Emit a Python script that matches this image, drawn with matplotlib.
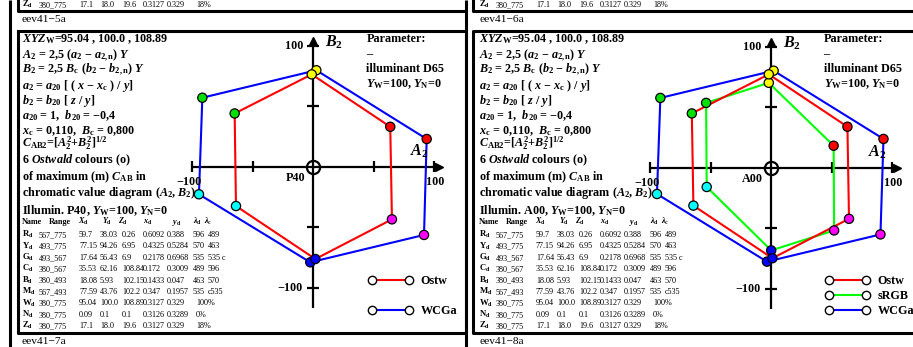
import numpy as np
import matplotlib.pyplot as plt

plt.rcParams['font.family'] = ['Liberation Serif', 'DejaVu Serif']
plt.rcParams['font.weight'] = 'bold'
plt.rcParams['mathtext.fontset'] = 'custom'
plt.rcParams['mathtext.rm'] = 'Liberation Serif:bold'
plt.rcParams['mathtext.it'] = 'Liberation Serif:italic:bold'
plt.rcParams['mathtext.bf'] = 'Liberation Serif:bold'

# hexagon order R, Y, G, C, B, M
hue_colors = ['#ff0000', '#ffff00', '#00e000', '#00ffff', '#0000ff', '#ff00ff']

# panel eev41-7a (illuminant P40)
p40_ostw_A = [63.6, -1.3, -65.0, -63.9, 1.7, 65.0]
p40_ostw_B = [33.0, 76.3, 44.0, -32.5, -76.3, -43.5]
p40_wcga_A = [93.7, 2.5, -91.7, -94.5, -2.5, 91.5]
p40_wcga_B = [22.9, 79.7, 57.0, -22.8, -79.0, -56.4]

# panel eev41-8a (illuminant A00)
a00_ostw_A = [63.0, -2.0, -65.6, -64.3, 1.0, 64.3]
a00_ostw_B = [33.7, 77.0, 44.7, -31.5, -75.0, -42.4]
a00_srgb_A = [51.6, -2.0, -53.8, -53.3, 0.0, 52.0]
a00_srgb_B = [18.0, 70.0, 53.4, -16.1, -68.5, -52.0]
a00_wcga_A = [92.8, 2.0, -91.6, -94.4, -3.5, 90.3]
a00_wcga_B = [23.6, 80.0, 57.5, -21.9, -77.8, -55.3]

# colour table
row_names = ['R', 'Y', 'G', 'C', 'B', 'M', 'W', 'N', 'Z']
row_range = ['567_775', '493_775', '493_567', '380_567', '380_493', '567_493',
             '380_775', '380_775', '380_775']
row_X = ['59.7', '77.15', '17.64', '35.53', '18.08', '77.59', '95.04', '0.09', '17.1']
row_Y = ['38.03', '94.26', '56.43', '62.16', '5.93', '43.76', '100.0', '0.1', '18.0']
row_Z = ['0.26', '6.95', '6.9', '108.84', '102.15', '102.2', '108.89', '0.1', '19.6']
row_x = ['0.6092', '0.4325', '0.2178', '0.172', '0.1433', '0.347', '0.3127', '0.3126', '0.3127']
row_y = ['0.388', '0.5284', '0.6968', '0.3009', '0.047', '0.1957', '0.329', '0.3289', '0.329']
row_ld = ['596', '570', '535', '489', '463', '535', '', '', '']
row_lc = ['489', '463', '535 c', '596', '570', 'c535', '', '', '']
row_pct = ['', '', '', '', '', '', '100%', '0%', '18%']

W, H = 913, 347
S = 1.21  # px per unit
fig = plt.figure(figsize=(W / 100, H / 100), dpi=100)
bg = fig.add_axes([0, 0, 1, 1])
bg.set_xlim(0, W)
bg.set_ylim(H, 0)
bg.axis('off')

FS = 8.7
LW_FRAME = 2.2

# frames
for x in (10, 466):
    bg.plot([x, x], [0, H], color='k', lw=LW_FRAME, solid_capstyle='butt')
bg.plot([18, 18, 466], [0, 11, 11], color='k', lw=LW_FRAME)
bg.plot([473, 473, W], [0, 11, 11], color='k', lw=LW_FRAME)
bg.plot([18, 466, 466, 18, 18], [31, 31, 333, 333, 31], color='k', lw=LW_FRAME)
bg.plot([W, 473, 473, W], [31, 31, 333, 333], color='k', lw=LW_FRAME)

col_x = [22, 39, 79, 100, 122, 143, 167, 193, 208]
TFS = 5.9


def table_row(dx, y, i):
    bg.text(dx + col_x[0], y, r'$\mathrm{%s}_\mathrm{d}$' % row_names[i], fontsize=TFS + 0.4,
            va='baseline')
    vals = [row_range[i], row_X[i], row_Y[i], row_Z[i], row_x[i], row_y[i], row_ld[i], row_lc[i]]
    for cx, v in zip(col_x[1:], vals):
        if v:
            bg.text(dx + cx, y, v, fontsize=TFS, fontweight='normal', va='baseline')
    if row_pct[i]:
        bg.text(dx + 196, y, row_pct[i], fontsize=TFS, fontweight='normal', va='baseline')


def panel_text(dx, illum, label_top, label_bot):
    bg.text(dx + 22, 22, label_top, fontsize=8.2, fontweight='normal', va='baseline')
    bg.text(dx + 22, 344, label_bot, fontsize=8.2, fontweight='normal', va='baseline')
    table_row(dx, 7, 8)
    lines = [
        r'$XYZ_\mathrm{W}$=95.04 , 100.0 , 108.89',
        r'$A_2$ = 2,5 ($a_2$ − $a_\mathrm{2,n}$) $Y$',
        r'$B_2$ = 2,5 $B_\mathrm{c}$ ($b_2$ − $b_\mathrm{2,n}$) $Y$',
        r'$a_2$ = $a_{20}$ [ ( $x$ − $x_\mathrm{c}$ ) / $y$]',
        r'$b_2$ = $b_{20}$ [ $z$ / $y$]',
        r'$a_{20}$ = 1,  $b_{20}$ = −0,4',
        r'$x_\mathrm{c}$ = 0,110,  $B_\mathrm{c}$ = 0,800',
        r'$C_\mathrm{AB2}$=[$A_2^2$+$B_2^2$]$^{1/2}$',
        r'6 $Ostwald$ colours (o)',
        r'of maximum (m) $C_\mathrm{AB}$ in',
        r'chromatic value diagram ($A_2$, $B_2$)',
        r'Illumin. %s, $Y_\mathrm{W}$=100, $Y_\mathrm{N}$=0' % illum,
    ]
    ys = [38.3, 54.3, 68.3, 85, 100, 115, 130, 143, 159, 176, 192, 210]
    for s, y in zip(lines, ys):
        bg.text(dx + 22, y + 4, s, fontsize=FS, va='baseline')
    heads = [('Name', 22), ('Range', 49), (r'$X_\mathrm{d}$', 78), (r'$Y_\mathrm{d}$', 102),
             (r'$Z_\mathrm{d}$', 118), (r'$x_\mathrm{d}$', 143), (r'$y_\mathrm{d}$', 172),
             (r'$\lambda_\mathrm{d}$', 193), (r'$\lambda_\mathrm{c}$', 204)]
    for h, hx in heads:
        bg.text(dx + hx, 224, h, fontsize=TFS, va='baseline')
    for i in range(len(row_names)):
        table_row(dx, 237 + i * 11.4, i)
    par = ['Parameter:', '–', 'illuminant D65', r'$Y_\mathrm{W}$=100, $Y_\mathrm{N}$=0']
    for s, y in zip(par, [38.3, 53, 68.3, 83.3]):
        bg.text(dx + 366.5, y + 4, s, fontsize=FS, va='baseline')


def legend(dx, entries, ys):
    for (name, col), y in zip(entries, ys):
        bg.plot([dx + 371.7, dx + 409], [y, y], color=col, lw=1.5)
        bg.plot([dx + 371.7, dx + 409], [y, y], 'o', ms=6, mfc='white', mec='k', mew=1)
        bg.text(dx + 420.7, y + 4, name, fontsize=FS, va='baseline')


def diagram(ox, oy, series, axis_label):
    R = 140
    size = 2 * R * S
    ax = fig.add_axes([(ox - R * S) / W, (H - oy - R * S) / H, size / W, size / H])
    ax.set_xlim(-R, R)
    ax.set_ylim(-R, R)
    ax.axis('off')
    ax.patch.set_alpha(0)
    k = dict(color='k', lw=1.6, solid_capstyle='butt', clip_on=False)
    ax.plot([-100, 104], [0, 0], **k)
    ax.plot([0, 0], [-117, 104], **k)
    ax.plot([104], [0], marker='>', ms=6, color='k', clip_on=False)
    ax.plot([0], [104], marker='^', ms=6, color='k', clip_on=False)
    for t in (-100, -50, 50, 100):
        ax.plot([t, t], [-4.5, 4.5], **k)
        ax.plot([-5, 5], [t, t], **k)
    ax.plot([0], [0], 'o', ms=9.5, mfc='none', mec='k', mew=1.6)
    for A, B, col in series:
        ax.plot(A + A[:1], B + B[:1], color=col, lw=1.5, zorder=3)
        ax.scatter(A, B, s=44, c=hue_colors, edgecolors='k', linewidths=0.9, zorder=4)
    ax.text(-8.5, 100, '100', fontsize=FS, ha='right', va='center')
    ax.text(9.5, 102.5, r'$B_2$', fontsize=11.5, ha='left', va='center')
    ax.text(80, 12.4, r'$A_2$', fontsize=11.5, ha='left', va='center')
    ax.text(93.5, -12.5, '100', fontsize=FS, ha='left', va='center')
    ax.text(-103, -12.4, '−100', fontsize=FS, ha='center', va='center')
    ax.text(-6.8, -9.3, axis_label, fontsize=FS, ha='right', va='center')
    ax.text(-8.5, -100, '−100', fontsize=FS, ha='right', va='center')
    return ax


# left panel
panel_text(0, 'P40', 'eev41−5a', 'eev41−7a')
diagram(313.3, 166.7, [(p40_wcga_A, p40_wcga_B, '#0000ff'),
                       (p40_ostw_A, p40_ostw_B, '#ff0000')], 'P40')
legend(0, [('Ostw', '#ff0000'), ('WCGa', '#0000ff')], [280, 310])

# right panel
panel_text(457, 'A00', 'eev41−6a', 'eev41−8a')
diagram(771.2, 167.5, [(a00_wcga_A, a00_wcga_B, '#0000ff'),
                       (a00_srgb_A, a00_srgb_B, '#00ff00'),
                       (a00_ostw_A, a00_ostw_B, '#ff0000')], 'A00')
legend(457, [('Ostw', '#ff0000'), ('sRGB', '#00ff00'), ('WCGa', '#0000ff')], [280, 295, 310])

fig.savefig('out.png', dpi=100)
